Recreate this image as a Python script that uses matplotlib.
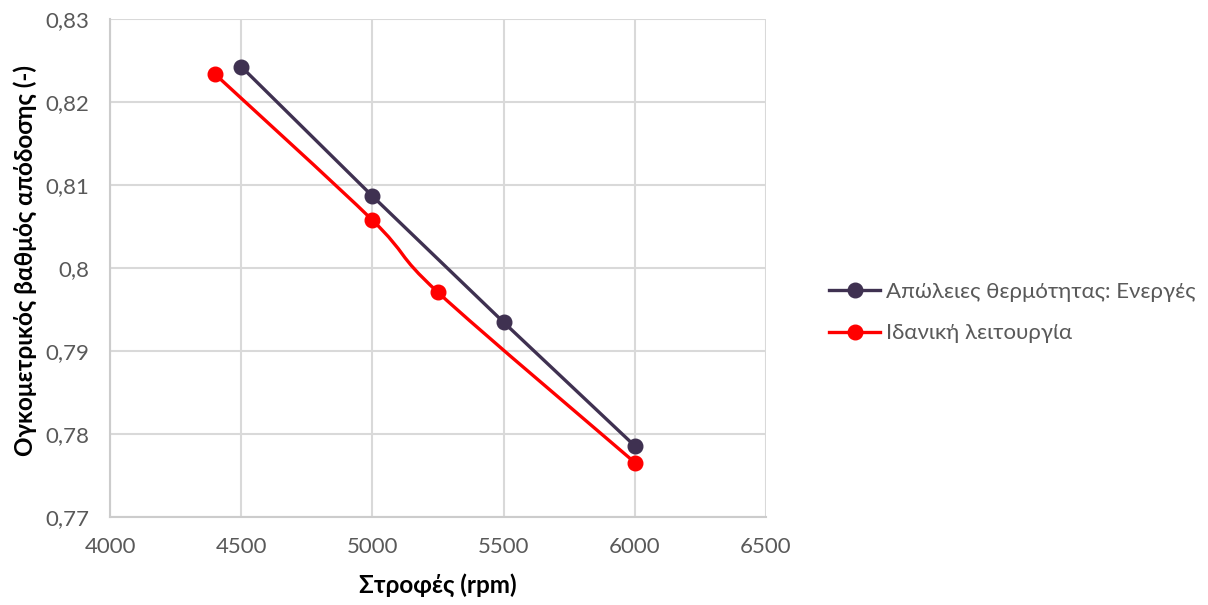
import matplotlib
matplotlib.use("Agg")
import matplotlib.pyplot as plt
from matplotlib.path import Path
from matplotlib.patches import PathPatch
from matplotlib.lines import Line2D
from matplotlib.ticker import FuncFormatter
import numpy as np

plt.rcParams['font.family'] = ['Lato', 'DejaVu Sans']

# Data
rpm_losses = [4500, 5000, 5500, 6000]
eff_losses = [0.8243, 0.8087, 0.7935, 0.7786]
rpm_ideal = [4400, 5000, 5250, 6000]
eff_ideal = [0.8234, 0.8058, 0.7971, 0.7766]
label_losses = "Απώλειες θερμότητας: Ενεργές"
label_ideal = "Ιδανική λειτουργία"
xlabel = "Στροφές (rpm)"
ylabel = "Ογκομετρικός βαθμός απόδοσης (-)"

c_losses = "#3f3151"
c_ideal = "#ff0000"
tick_color = "#595959"


def smooth_path(xs, ys):
    """Catmull-Rom style cubic Bezier path through the given points."""
    pts = np.column_stack([xs, ys]).astype(float)
    n = len(pts)
    verts = [pts[0]]
    codes = [Path.MOVETO]
    for i in range(n - 1):
        p0 = pts[i - 1] if i > 0 else pts[i]
        p1 = pts[i]
        p2 = pts[i + 1]
        p3 = pts[i + 2] if i + 2 < n else pts[i + 1]
        c1 = p1 + (p2 - p0) / 6.0
        c2 = p2 - (p3 - p1) / 6.0
        verts += [c1, c2, p2]
        codes += [Path.CURVE4] * 3
    return Path(verts, codes)


fig = plt.figure(figsize=(12.08, 6.05), dpi=100)
ax = fig.add_axes([0.0911, 0.145, 0.543, 0.823])

ax.plot(rpm_losses, eff_losses, color=c_losses, lw=2.4, marker='o', ms=10.5,
        zorder=4, solid_capstyle='round')
ax.add_patch(PathPatch(smooth_path(rpm_ideal, eff_ideal), fill=False,
                       edgecolor=c_ideal, lw=2.4, zorder=3, capstyle='round'))
ax.plot(rpm_ideal, eff_ideal, color=c_ideal, lw=0, marker='o', ms=10.5, zorder=3)

ax.set_xlim(4000, 6500)
ax.set_ylim(0.77, 0.83)
ax.set_xticks(np.arange(4000, 6501, 500))
ax.set_yticks(np.arange(0.77, 0.8301, 0.01))
ax.yaxis.set_major_formatter(FuncFormatter(lambda v, p: f"{v:.2f}".rstrip('0').replace('.', ',')))

ax.grid(True, color="#d9d9d9", lw=1.5)
ax.set_axisbelow(True)
for s in ['top', 'right']:
    ax.spines[s].set_visible(False)
for s in ['left', 'bottom']:
    ax.spines[s].set_color("#cccccc")
    ax.spines[s].set_linewidth(1.5)
ax.tick_params(length=0, labelsize=16, labelcolor=tick_color)
ax.tick_params(axis='y', pad=15)
ax.tick_params(axis='x', pad=14)

ax.set_xlabel(xlabel, fontsize=17.5, fontweight='bold', labelpad=12)
ax.set_ylabel(ylabel, fontsize=17.5, fontweight='bold')
ax.yaxis.set_label_coords(-0.112, 0.515)

handles = [
    Line2D([], [], color=c_losses, lw=2.4, marker='o', ms=10.5),
    Line2D([], [], color=c_ideal, lw=2.4, marker='o', ms=10.5),
]
fig.legend(handles, [label_losses, label_ideal], loc='center left',
           bbox_to_anchor=(0.670, 0.483), frameon=False, fontsize=16,
           labelcolor=tick_color, handlelength=2.3, handletextpad=0.25,
           labelspacing=0.95)

fig.savefig("out.png", dpi=100)
